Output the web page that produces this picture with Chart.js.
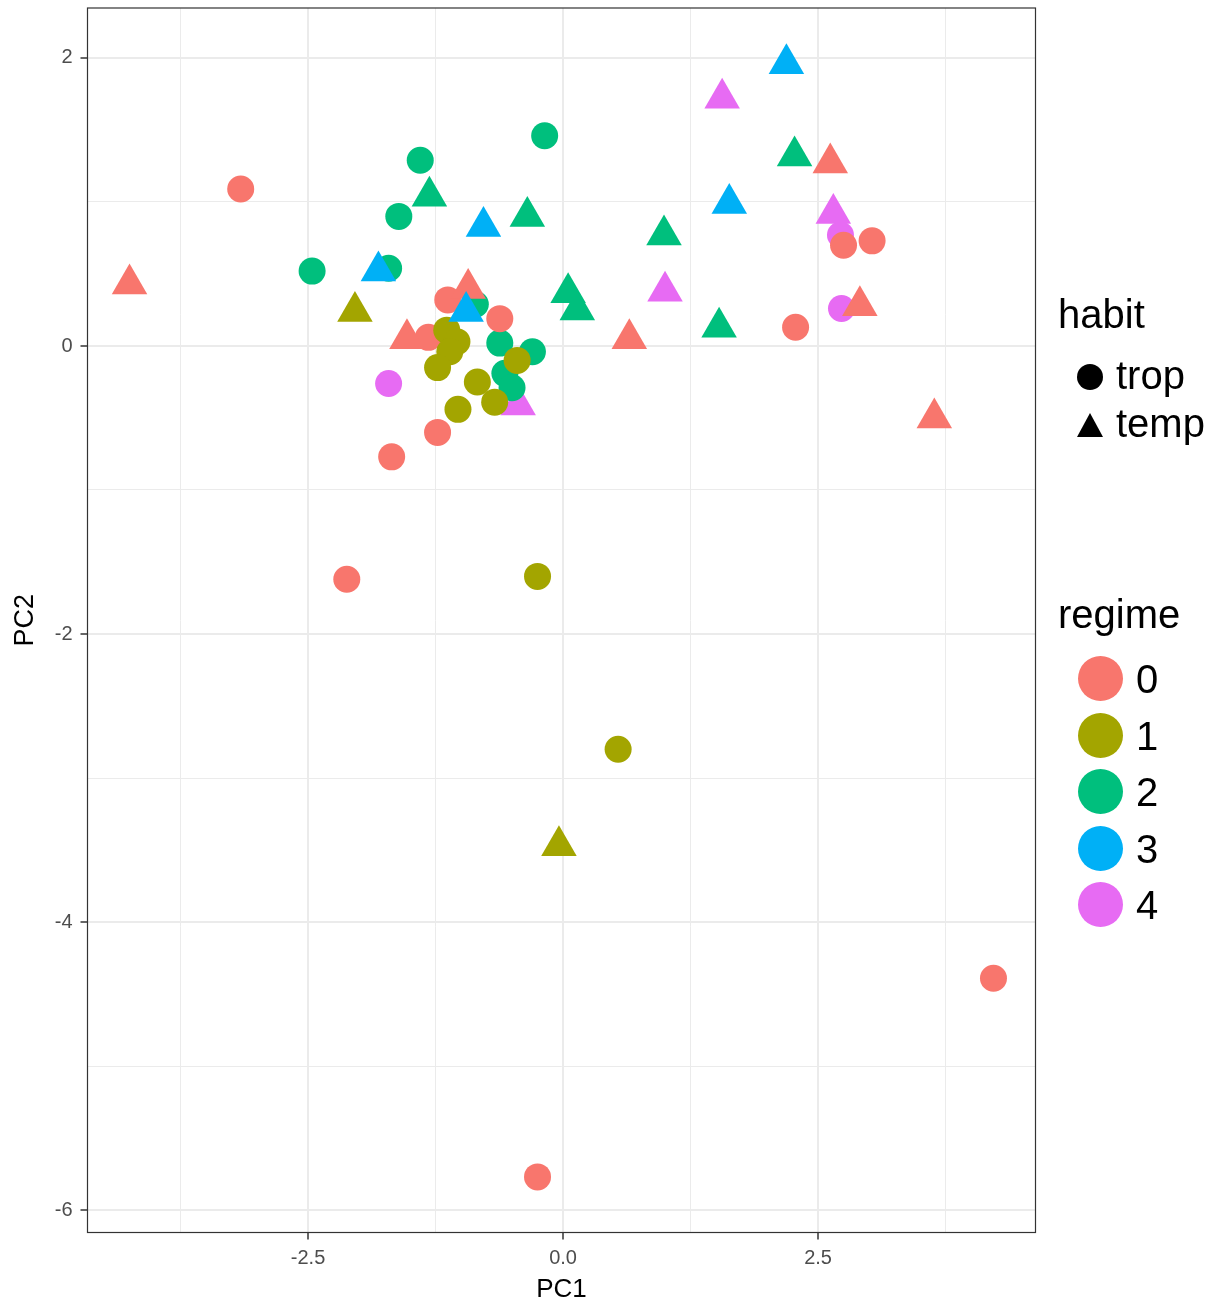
<!DOCTYPE html>
<html>
<head>
<meta charset="utf-8">
<script src="https://cdn.jsdelivr.net/npm/chart.js@4/dist/chart.umd.min.js"></script>
<style>
  html, body { margin: 0; padding: 0; background: #ffffff; }
  #wrap { position: relative; width: 1215px; height: 1307px; }
  #c { position: absolute; left: 0; top: 0; }
  .lg { position: absolute; font-family: "Liberation Sans", Arial, Helvetica, sans-serif; font-size: 40px; line-height: 40px; color: #000; white-space: nowrap; }
  .dot { position: absolute; border-radius: 50%; }
</style>
</head>
<body>
<div id="wrap">
  <canvas id="c" width="1215" height="1307"></canvas>
  <div id="legend"></div>
</div>
<script>
// ---- data ----
const regimeLabels = ['0', '1', '2', '3', '4'];
const regimeColors = ['#F8766D', '#A3A500', '#00BF7D', '#00B0F6', '#E76BF3'];
const habitLabels = ['trop', 'temp'];

const regime0PC1   = [-3.16, -2.12, -1.68, -1.23, -1.32, -1.13, -0.62, -0.25, 2.28, 2.75, 3.03, 4.22, -4.25, -1.53, -0.93, 0.65, 2.62, 2.91, 3.64];
const regime0PC2   = [ 1.09, -1.62, -0.77, -0.60,  0.06,  0.32,  0.19, -5.77, 0.13, 0.70, 0.73, -4.39, 0.43, 0.05, 0.40, 0.05, 1.27, 0.28, -0.50];
const regime0Habit = ['trop','trop','trop','trop','trop','trop','trop','trop','trop','trop','trop','trop','temp','temp','temp','temp','temp','temp','temp'];

const regime1PC1   = [-1.14, -1.04, -1.11, -1.23, -0.84, -1.03, -0.67, -0.45, -0.25, 0.54, -2.04, -0.04];
const regime1PC2   = [ 0.11,  0.03, -0.04, -0.15, -0.25, -0.44, -0.39, -0.10, -1.60, -2.80, 0.24, -3.47];
const regime1Habit = ['trop','trop','trop','trop','trop','trop','trop','trop','trop','trop','temp','temp'];

const regime2PC1   = [-2.46, -1.71, -1.61, -1.40, -0.18, -0.86, -0.62, -0.30, -0.57, -0.50, -1.31, -0.35, 0.05, 0.14, 0.99, 1.53, 2.27];
const regime2PC2   = [ 0.52,  0.54,  0.90,  1.29,  1.46,  0.29,  0.02, -0.04, -0.19, -0.29,  1.04,  0.90, 0.37, 0.25, 0.77, 0.13, 1.32];
const regime2Habit = ['trop','trop','trop','trop','trop','trop','trop','trop','trop','trop','temp','temp','temp','temp','temp','temp','temp'];

const regime3PC1   = [-1.81, -0.95, -0.78, 1.63, 2.19];
const regime3PC2   = [ 0.52,  0.24,  0.83, 0.99, 1.96];
const regime3Habit = ['temp','temp','temp','temp','temp'];

const regime4PC1   = [-1.71, 2.72, 2.73, -0.44, 1.00, 1.56, 2.65];
const regime4PC2   = [-0.26, 0.77, 0.26, -0.41, 0.38, 1.72, 0.92];
const regime4Habit = ['trop','trop','trop','temp','temp','temp','temp'];

const xTicks = [-3.75, -2.5, -1.25, 0, 1.25, 2.5, 3.75];
const xMajor = [-2.5, 0, 2.5];
const xTickLabels = ['-2.5', '0.0', '2.5'];
const yTicks = [-6, -5, -4, -3, -2, -1, 0, 1, 2];
const yMajor = [-6, -4, -2, 0, 2];
const yTickLabels = ['-6', '-4', '-2', '0', '2'];

// ---- build chart ----
const allPC1 = [regime0PC1, regime1PC1, regime2PC1, regime3PC1, regime4PC1];
const allPC2 = [regime0PC2, regime1PC2, regime2PC2, regime3PC2, regime4PC2];
const allHabit = [regime0Habit, regime1Habit, regime2Habit, regime3Habit, regime4Habit];
const drawOrder = [2, 1, 3, 0, 4]; // lower = drawn on top

const FONT = '"Liberation Sans", Arial, Helvetica, sans-serif';
const CIRCLE_R = 13.5, TRI_R = 20.5;

const datasets = regimeLabels.map((lab, r) => ({
  label: lab,
  order: drawOrder[r],
  data: allPC1[r].map((x, i) => ({ x: x, y: allPC2[r][i] })),
  pointStyle: allHabit[r].map(h => h === 'trop' ? 'circle' : 'triangle'),
  pointRadius: allHabit[r].map(h => h === 'trop' ? CIRCLE_R : TRI_R),
  pointHoverRadius: allHabit[r].map(h => h === 'trop' ? CIRCLE_R : TRI_R),
  pointBackgroundColor: regimeColors[r],
  pointBorderColor: regimeColors[r],
  pointBorderWidth: 0,
  showLine: false,
  clip: false
}));

function isIn(arr, v) { return arr.some(a => Math.abs(a - v) < 1e-9); }

const panelBorder = {
  id: 'panelBorder',
  afterDraw(chart) {
    const a = chart.chartArea, ctx = chart.ctx;
    ctx.save();
    ctx.strokeStyle = '#333333';
    ctx.lineWidth = 1.2;
    ctx.strokeRect(a.left, a.top, a.right - a.left, a.bottom - a.top);
    ctx.restore();
  }
};

new Chart(document.getElementById('c'), {
  type: 'scatter',
  data: { datasets },
  options: {
    responsive: false,
    animation: false,
    events: [],
    layout: { autoPadding: false, padding: { left: 0, top: 8, right: 179.5, bottom: 0 } },
    plugins: { legend: { display: false }, tooltip: { enabled: false } },
    scales: {
      x: {
        type: 'linear',
        min: -4.662, max: 4.632,
        afterBuildTicks: s => { s.ticks = xTicks.map(v => ({ value: v })); },
        afterFit: s => { s.height = 74.5; s.paddingLeft = 0; s.paddingRight = 0; },
        border: { display: false },
        grid: {
          color: '#ebebeb',
          lineWidth: c => isIn(xMajor, c.tick.value) ? 2 : 1,
          tickLength: 7,
          tickColor: c => isIn(xMajor, c.tick.value) ? '#333333' : 'rgba(0,0,0,0)',
          tickWidth: 1.5
        },
        ticks: {
          autoSkip: false,
          maxRotation: 0,
          padding: 7,
          color: '#4d4d4d',
          font: { family: FONT, size: 20 },
          callback: v => { const k = xMajor.findIndex(m => Math.abs(m - v) < 1e-9); return k >= 0 ? xTickLabels[k] : ''; }
        },
        title: { display: true, text: 'PC1', color: '#000', font: { family: FONT, size: 26 }, padding: { top: 0, bottom: 2 } }
      },
      y: {
        type: 'linear',
        min: -6.156, max: 2.347,
        afterBuildTicks: s => { s.ticks = yTicks.map(v => ({ value: v })); },
        afterFit: s => { s.width = 87.5; s.paddingTop = 0; s.paddingBottom = 0; },
        border: { display: false },
        grid: {
          color: '#ebebeb',
          lineWidth: c => isIn(yMajor, c.tick.value) ? 2 : 1,
          tickLength: 7,
          tickColor: c => isIn(yMajor, c.tick.value) ? '#333333' : 'rgba(0,0,0,0)',
          tickWidth: 1.5
        },
        ticks: {
          autoSkip: false,
          padding: 8,
          color: '#4d4d4d',
          font: { family: FONT, size: 20 },
          callback: v => { const k = yMajor.findIndex(m => Math.abs(m - v) < 1e-9); return k >= 0 ? yTickLabels[k] : ''; }
        },
        title: { display: true, text: 'PC2', color: '#000', font: { family: FONT, size: 27 }, padding: { top: 9, bottom: 0 } }
      }
    }
  },
  plugins: [panelBorder]
});

// ---- legend (HTML text) ----
const lg = document.getElementById('legend');
function addText(txt, left, baseline) {
  const d = document.createElement('div');
  d.className = 'lg';
  d.textContent = txt;
  d.style.left = left + 'px';
  d.style.top = (baseline - 34) + 'px';
  lg.appendChild(d);
}
function addDot(cx, cy, r, color) {
  const d = document.createElement('div');
  d.className = 'dot';
  d.style.left = (cx - r) + 'px';
  d.style.top = (cy - r) + 'px';
  d.style.width = (2 * r) + 'px';
  d.style.height = (2 * r) + 'px';
  d.style.background = color;
  lg.appendChild(d);
}
function addTri(cx, cy, w, h, color) {
  const ns = 'http://www.w3.org/2000/svg';
  const svg = document.createElementNS(ns, 'svg');
  svg.setAttribute('width', w);
  svg.setAttribute('height', h);
  svg.style.position = 'absolute';
  svg.style.left = (cx - w / 2) + 'px';
  svg.style.top = (cy - h / 2) + 'px';
  const p = document.createElementNS(ns, 'polygon');
  p.setAttribute('points', `${w / 2},0 ${w},${h} 0,${h}`);
  p.setAttribute('fill', color);
  svg.appendChild(p);
  lg.appendChild(svg);
}
addText('habit', 1058, 328);
addDot(1090, 377, 13.3, '#000');
addText(habitLabels[0], 1116, 389);
addTri(1090, 425, 26, 24, '#000');
addText(habitLabels[1], 1116, 437);

addText('regime', 1058, 628);
const keyY = [678, 735, 791, 848, 904];
regimeLabels.forEach((lab, r) => {
  addDot(1100, keyY[r], 22.5, regimeColors[r]);
  addText(lab, 1136, keyY[r] + 14.5);
});
</script>
</body>
</html>
